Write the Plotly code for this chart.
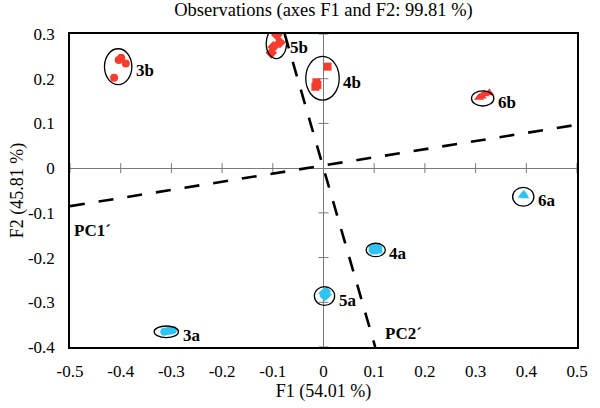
import plotly.graph_objects as go

# ---------------- data ----------------
# observation scores (F1, F2) per group
g3b_f1 = [-0.399, -0.404, -0.390, -0.413]
g3b_f2 = [0.247, 0.242, 0.234, 0.202]
g5b_f1 = [-0.092, -0.086, -0.099, -0.103]
g5b_f2 = [0.298, 0.281, 0.271, 0.258]
g4b_f1 = [0.008, -0.016, -0.014, -0.012]
g4b_f2 = [0.227, 0.182, 0.192, 0.186]
g6b_f1 = [0.307, 0.312, 0.317, 0.327]
g6b_f2 = [0.158, 0.161, 0.166, 0.168]
g6a_f1 = [0.392, 0.395, 0.397]
g6a_f2 = [-0.062, -0.057, -0.063]
g4a_f1 = [0.097, 0.104, 0.108, 0.100]
g4a_f2 = [-0.180, -0.179, -0.182, -0.184]
g5a_f1 = [0.000, 0.005, 0.006, 0.002]
g5a_f2 = [-0.280, -0.276, -0.283, -0.286]
g3a_f1 = [-0.314, -0.307, -0.300, -0.297]
g3a_f2 = [-0.366, -0.364, -0.363, -0.362]

group_names = ["3b", "5b", "4b", "6b", "6a", "4a", "5a", "3a"]
# confidence ellipses: centre and half-axes
ell_cx = [-0.405, -0.093, -0.002, 0.314, 0.394, 0.103, 0.002, -0.310]
ell_cy = [0.227, 0.279, 0.201, 0.156, -0.064, -0.183, -0.286, -0.366]
ell_rx = [0.027, 0.020, 0.033, 0.022, 0.021, 0.019, 0.020, 0.024]
ell_ry = [0.040, 0.034, 0.049, 0.017, 0.021, 0.015, 0.021, 0.013]

# principal-direction lines
pc1_f1 = [-0.5, 0.5]
pc1_f2 = [-0.085, 0.097]
pc2_f1 = [-0.0765, 0.102]
pc2_f2 = [0.3, -0.4]

x_tick_vals = [-0.5, -0.4, -0.3, -0.2, -0.1, 0, 0.1, 0.2, 0.3, 0.4, 0.5]
x_tick_text = ["-0.5", "-0.4", "-0.3", "-0.2", "-0.1", "0", "0.1", "0.2", "0.3", "0.4", "0.5"]
y_tick_vals = [-0.4, -0.3, -0.2, -0.1, 0, 0.1, 0.2, 0.3]
y_tick_text = ["-0.4", "-0.3", "-0.2", "-0.1", "0", "0.1", "0.2", "0.3"]

# ---------------- styles ----------------
RED = "#F73B2C"
CYAN = "#2EC3F2"
FONT = "Liberation Serif"

series = [
    (g3b_f1, g3b_f2, RED, "circle", 8),
    (g5b_f1, g5b_f2, RED, "diamond", 9),
    (g4b_f1, g4b_f2, RED, "square", 8),
    (g6b_f1, g6b_f2, RED, "triangle-up", 9),
    (g6a_f1, g6a_f2, CYAN, "triangle-up", 8),
    (g4a_f1, g4a_f2, CYAN, "square", 8),
    (g5a_f1, g5a_f2, CYAN, "diamond", 8),
    (g3a_f1, g3a_f2, CYAN, "circle", 8),
]

fig = go.Figure()

# zero axes with crossing tick marks
tx, ty = [], []
hx = 0.0098
hy = 0.0112
for v in x_tick_vals:
    if v != 0:
        tx += [v, v, None]
        ty += [-hy, hy, None]
for v in y_tick_vals:
    if v != 0:
        tx += [-hx, hx, None]
        ty += [v, v, None]
fig.add_trace(go.Scatter(x=tx, y=ty, mode="lines",
                         line=dict(color="#7a7a7a", width=1), hoverinfo="skip", showlegend=False))

# dashed PC lines
for xs, ys in [(pc1_f1, pc1_f2), (pc2_f1, pc2_f2)]:
    fig.add_trace(go.Scatter(x=xs, y=ys, mode="lines",
                             line=dict(color="black", width=2.6, dash="15px,14px"),
                             hoverinfo="skip", showlegend=False))

for xs, ys, col, sym, sz in series:
    fig.add_trace(go.Scatter(x=xs, y=ys, mode="markers",
                             marker=dict(color=col, symbol=sym, size=sz, line=dict(width=0)),
                             showlegend=False))

shapes = []
annotations = []
for name, cx, cy, rx, ry in zip(group_names, ell_cx, ell_cy, ell_rx, ell_ry):
    shapes.append(dict(type="circle", xref="x", yref="y",
                       x0=cx - rx, x1=cx + rx, y0=cy - ry, y1=cy + ry,
                       line=dict(color="black", width=1.3)))
    annotations.append(dict(x=cx + rx, y=cy, xref="x", yref="y", text=name,
                            xanchor="left", yanchor="middle", xshift=2, yshift=-4,
                            showarrow=False,
                            font=dict(family=FONT, size=17, color="black", weight="bold")))

annotations.append(dict(x=-0.497, y=-0.139, xref="x", yref="y", text="PC1´",
                        xanchor="left", yanchor="middle", showarrow=False,
                        font=dict(family=FONT, size=17, color="black", weight="bold")))
annotations.append(dict(x=0.118, y=-0.369, xref="x", yref="y", text="PC2´",
                        xanchor="left", yanchor="middle", showarrow=False,
                        font=dict(family=FONT, size=17, color="black", weight="bold")))

fig.update_layout(
    width=600, height=408,
    margin=dict(l=70, r=20, t=34, b=61),
    paper_bgcolor="white", plot_bgcolor="white",
    font=dict(family=FONT, size=17, color="black"),
    title=dict(text="Observations (axes F1 and F2: 99.81 %)", x=0.5, xref="paper",
               y=1, yref="container", yanchor="top", pad=dict(t=3),
               font=dict(family=FONT, size=18.5, color="black")),
    shapes=shapes,
    annotations=annotations,
    showlegend=False,
)
fig.update_xaxes(range=[-0.5, 0.5], tickvals=x_tick_vals, ticktext=x_tick_text,
                 showgrid=False, zeroline=True, zerolinecolor="#7a7a7a", zerolinewidth=1,
                 showline=True, mirror=True, linecolor="black", linewidth=1.5,
                 ticks="", ticklabelstandoff=8,
                 title=dict(text="F1 (54.01 %)", standoff=2, font=dict(size=18)))
fig.update_yaxes(range=[-0.4, 0.3], tickvals=y_tick_vals, ticktext=y_tick_text,
                 showgrid=False, zeroline=True, zerolinecolor="#7a7a7a", zerolinewidth=1,
                 showline=True, mirror=True, linecolor="black", linewidth=1.5,
                 ticks="", ticklabelstandoff=10,
                 title=dict(text="F2 (45.81 %)", standoff=0, font=dict(size=18)))

fig.write_html("out.html", config={"displayModeBar": False},
               post_script="document.body.style.margin='0';")
